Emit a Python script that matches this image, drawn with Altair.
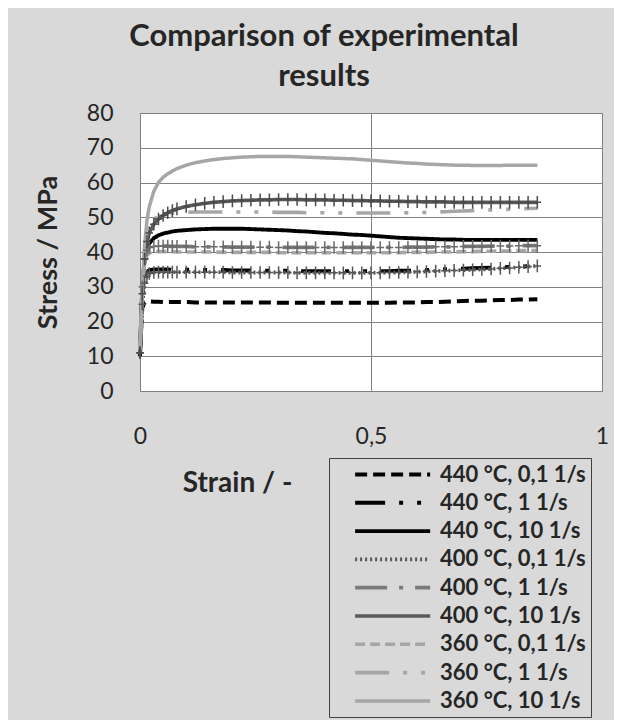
import altair as alt
import pandas as pd

strain = [0, 0.005, 0.01, 0.015, 0.02, 0.03, 0.04, 0.05, 0.06, 0.07, 0.08,
          0.10, 0.12, 0.14, 0.16, 0.18, 0.20, 0.22, 0.24, 0.26, 0.28,
          0.30, 0.32, 0.34, 0.36, 0.38, 0.40, 0.42, 0.44, 0.46, 0.48,
          0.50, 0.52, 0.54, 0.56, 0.58, 0.60, 0.62, 0.64, 0.66, 0.68,
          0.70, 0.72, 0.74, 0.76, 0.78, 0.80, 0.82, 0.84, 0.86]

s440_01 = [12, 24, 25.5, 25.8, 25.8, 25.7, 25.7, 25.6, 25.6, 25.6, 25.6,
           25.6, 25.5, 25.5, 25.5, 25.5, 25.5, 25.5, 25.5, 25.5, 25.5,
           25.4, 25.4, 25.4, 25.4, 25.4, 25.4, 25.4, 25.4, 25.4, 25.4,
           25.4, 25.4, 25.4, 25.5, 25.5, 25.5, 25.6, 25.6, 25.7, 25.8,
           25.9, 26.0, 26.0, 26.1, 26.2, 26.2, 26.3, 26.3, 26.4]
s440_1 = [10, 27, 33, 34.3, 34.8, 35.0, 35.0, 35.0, 35.0, 34.9, 34.9,
          34.9, 34.9, 34.8, 34.8, 34.8, 34.7, 34.7, 34.7, 34.6, 34.6,
          34.6, 34.6, 34.5, 34.5, 34.5, 34.5, 34.5, 34.5, 34.5, 34.5,
          34.5, 34.5, 34.5, 34.6, 34.6, 34.7, 34.8, 34.9, 35.0, 35.1,
          35.2, 35.3, 35.4, 35.5, 35.6, 35.7, 35.8, 35.9, 36.0]
s440_10 = [12, 30, 38, 41, 42.5, 44.0, 44.8, 45.3, 45.6, 45.9, 46.1,
           46.3, 46.5, 46.6, 46.7, 46.7, 46.7, 46.7, 46.6, 46.5, 46.4,
           46.3, 46.2, 46.0, 45.9, 45.7, 45.5, 45.4, 45.2, 45.0, 44.9,
           44.7, 44.5, 44.3, 44.1, 44.0, 43.9, 43.8, 43.7, 43.6, 43.6,
           43.5, 43.5, 43.5, 43.5, 43.5, 43.5, 43.5, 43.5, 43.5]
s400_01 = [11, 25, 31, 33, 33.8, 34.1, 34.2, 34.2, 34.2, 34.2, 34.2,
           34.2, 34.2, 34.2, 34.2, 34.2, 34.1, 34.1, 34.1, 34.1, 34.1,
           34.1, 34.1, 34.0, 34.0, 34.0, 34.0, 34.0, 34.0, 34.0, 34.0,
           34.0, 34.0, 34.1, 34.1, 34.2, 34.3, 34.4, 34.5, 34.6, 34.7,
           34.8, 34.9, 35.0, 35.1, 35.3, 35.4, 35.6, 35.8, 36.0]
s400_1 = [11, 30, 38, 40.5, 41.3, 41.6, 41.7, 41.7, 41.7, 41.6, 41.6,
          41.6, 41.5, 41.5, 41.5, 41.5, 41.4, 41.4, 41.4, 41.4, 41.4,
          41.3, 41.3, 41.3, 41.3, 41.3, 41.3, 41.3, 41.3, 41.3, 41.3,
          41.3, 41.3, 41.3, 41.3, 41.4, 41.4, 41.4, 41.5, 41.5, 41.5,
          41.6, 41.6, 41.6, 41.7, 41.7, 41.7, 41.8, 41.8, 41.8]
s400_10 = [11, 28, 38, 43, 45.5, 48.0, 49.5, 50.5, 51.3, 51.9, 52.4,
           53.1, 53.6, 54.0, 54.3, 54.5, 54.7, 54.8, 54.9, 55.0, 55.0,
           55.1, 55.1, 55.1, 55.0, 55.0, 55.0, 54.9, 54.9, 54.8, 54.8,
           54.7, 54.7, 54.6, 54.6, 54.5, 54.5, 54.4, 54.4, 54.4, 54.3,
           54.3, 54.3, 54.3, 54.3, 54.3, 54.3, 54.3, 54.3, 54.3]
s360_01 = [12, 30, 37, 39, 39.7, 40.0, 40.1, 40.1, 40.1, 40.1, 40.0,
           40.0, 40.0, 40.0, 40.0, 39.9, 39.9, 39.9, 39.9, 39.9, 39.9,
           39.8, 39.8, 39.8, 39.8, 39.8, 39.8, 39.8, 39.8, 39.8, 39.8,
           39.8, 39.8, 39.8, 39.8, 39.9, 39.9, 39.9, 40.0, 40.0, 40.0,
           40.1, 40.1, 40.2, 40.2, 40.3, 40.3, 40.4, 40.4, 40.5]
s360_1 = [12, 30, 40, 45, 47.5, 49.5, 50.3, 50.8, 51.0, 51.2, 51.3,
          51.4, 51.5, 51.5, 51.5, 51.5, 51.5, 51.5, 51.5, 51.5, 51.5,
          51.4, 51.4, 51.4, 51.3, 51.3, 51.3, 51.3, 51.2, 51.2, 51.2,
          51.2, 51.2, 51.2, 51.2, 51.3, 51.3, 51.4, 51.5, 51.6, 51.7,
          51.8, 51.9, 52.0, 52.1, 52.2, 52.3, 52.4, 52.5, 52.6]
s360_10 = [12, 30, 42, 49, 53, 57.5, 60, 61.5, 62.5, 63.3, 64,
           65.0, 65.7, 66.2, 66.6, 66.9, 67.1, 67.3, 67.4, 67.5, 67.5,
           67.5, 67.5, 67.4, 67.3, 67.2, 67.1, 67.0, 66.9, 66.8, 66.6,
           66.4, 66.2, 66.0, 65.8, 65.6, 65.5, 65.3, 65.2, 65.1, 65.0,
           65.0, 64.9, 64.9, 64.9, 64.9, 65.0, 65.0, 65.0, 65.0]

series_names = ["440 °C, 0,1 1/s", "440 °C, 1 1/s", "440 °C, 10 1/s",
                "400 °C, 0,1 1/s", "400 °C, 1 1/s", "400 °C, 10 1/s",
                "360 °C, 0,1 1/s", "360 °C, 1 1/s", "360 °C, 10 1/s"]
series_values = [s440_01, s440_1, s440_10, s400_01, s400_1, s400_10,
                 s360_01, s360_1, s360_10]

colors = ["#000000", "#000000", "#000000", "#555555", "#7a7a7a", "#5a5a5a",
          "#a6a6a6", "#a6a6a6", "#a6a6a6"]
dashes = [[12, 6], [30, 14, 4, 14, 4, 14], [1, 0], [2, 3], [32, 12, 4, 12],
          [1, 0], [10, 5], [34, 14, 4, 14, 4, 14], [1, 0]]
widths = [4, 3.5, 4, 2, 4, 3, 3.5, 3.5, 3.5]
marker_series = ["400 °C, 0,1 1/s", "400 °C, 1 1/s", "400 °C, 10 1/s"]
marker_colors = ["#555555", "#6a6a6a", "#4a4a4a"]

rows = []
for name, vals in zip(series_names, series_values):
    for s, v in zip(strain, vals):
        rows.append({"series": name, "strain": s, "stress": v})
df = pd.DataFrame(rows)

FONT = "Lato"
TXT = "#262626"

x_enc = alt.X("strain:Q", scale=alt.Scale(domain=[0, 1], nice=False),
              axis=alt.Axis(values=[0, 0.5, 1],
                            labelExpr="replace(format(datum.value, '~g'), '.', ',')",
                            title="Strain  / -", titleFont=FONT, titleFontSize=28,
                            titleFontWeight="bold", titleColor=TXT,
                            titleX=97, titleY=92, titleAlign="center", titleBaseline="middle",
                            labelFont=FONT, labelFontSize=23, labelColor=TXT,
                            labelPadding=34, ticks=False, domain=False, labelOverlap=False,
                            gridColor="#808080", gridWidth=1, gridOpacity=1,
                            labelFlush=False))
y_enc = alt.Y("stress:Q", scale=alt.Scale(domain=[0, 80], nice=False),
              axis=alt.Axis(values=list(range(0, 81, 10)), title="Stress / MPa",
                            titleFont=FONT, titleFontSize=27, titleFontWeight="bold",
                            titleColor=TXT, titlePadding=24,
                            labelFont=FONT, labelFontSize=23, labelColor=TXT,
                            labelPadding=27, ticks=False, domain=False, labelOverlap=False,
                            gridColor="#808080", gridWidth=1, gridOpacity=1))

lines = alt.Chart(df).mark_line(strokeCap="butt").encode(
    x=x_enc, y=y_enc,
    color=alt.Color("series:N", scale=alt.Scale(domain=series_names, range=colors),
                    sort=series_names,
                    legend=alt.Legend(title=None, orient="none", legendX=189, legendY=345,
                                      direction="vertical", symbolType="M-1,0L7,0",
                                      symbolSize=352, symbolOffset=19,
                                      labelFont=FONT, labelFontWeight="bold",
                                      labelFontSize=22, labelColor=TXT, labelOffset=64,
                                      labelExpr="datum.label + '\u00a0\u00a0'",
                                      labelLimit=400, rowPadding=5.3, padding=5,
                                      strokeColor="#404040", fillColor="#d9d9d9")),
    strokeDash=alt.StrokeDash("series:N", scale=alt.Scale(domain=series_names, range=dashes),
                              sort=series_names),
    strokeWidth=alt.StrokeWidth("series:N", scale=alt.Scale(domain=series_names, range=widths),
                                sort=series_names),
    order="strain:Q",
)

layers = [lines]
for name, col in zip(marker_series, marker_colors):
    pts = alt.Chart(df).transform_filter(alt.datum.series == name).mark_point(
        shape="M0,-1L0,1M-0.6,0L0.6,0", size=160, filled=False, color=col,
        strokeWidth=1.5, opacity=1
    ).encode(x=x_enc, y=y_enc)
    layers.append(pts)

chart = alt.layer(*layers).properties(
    width=462, height=278,
    autosize=alt.AutoSizeParams(type="none"),
    padding={"left": 132, "top": 105, "right": 12, "bottom": 329},
    background="#d9d9d9",
    title=alt.TitleParams(text=["Comparison of experimental", "results"],
                          font=FONT, fontSize=31, fontWeight="bold", color=TXT,
                          anchor="middle", dx=-47, lineHeight=40, offset=9),
).configure_view(fill="white", stroke="#808080", strokeWidth=1)

chart.save("out.html", embed_options={"renderer": "svg", "actions": False})
